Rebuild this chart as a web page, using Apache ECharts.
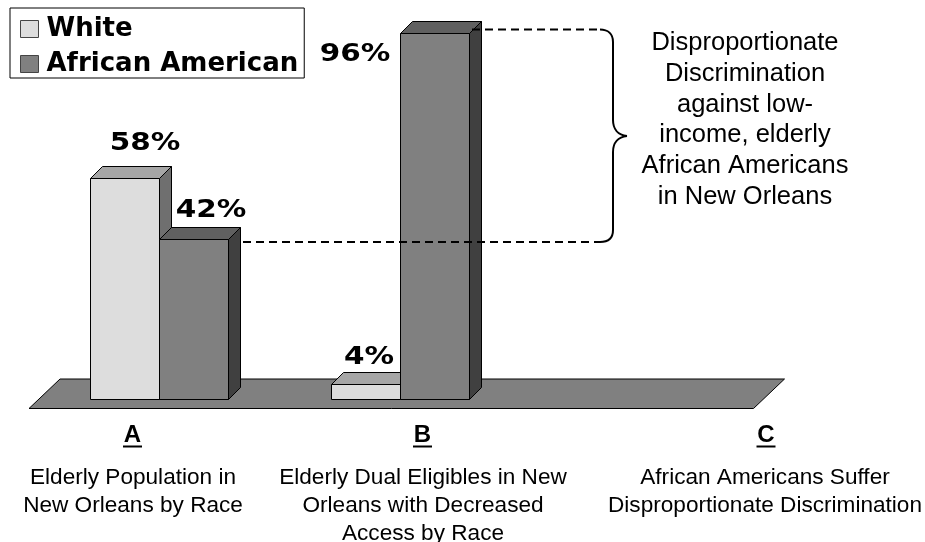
<!DOCTYPE html>
<html><head><meta charset="utf-8">
<script src="https://cdn.jsdelivr.net/npm/echarts@6/dist/echarts.min.js"></script>
<style>html,body{margin:0;padding:0;background:#fff}#c{width:925px;height:542px}</style>
</head><body><div id="c"></div>
<script>
const categories = ['A', 'B', 'C'];
const whiteValues = [58, 4, null];
const africanAmericanValues = [42, 96, null];
const seriesNames = ['White', 'African American'];
const captions = [
  'Elderly Population in\nNew Orleans by Race',
  'Elderly Dual Eligibles in New\nOrleans with Decreased\nAccess by Race',
  'African Americans Suffer\nDisproportionate Discrimination'
];
const annotation = 'Disproportionate\nDiscrimination\nagainst low-\nincome, elderly\nAfrican Americans\nin New Orleans';

// label offsets from the bar's top-front-centre, in pixels
const labelOffsets = [
  [[20, -35], [3, -27], null],
  [[17, -29], [-80, 21], null]
];
const faces = [
  {front: '#dddddd', top: '#a6a6a6', side: '#6f6f6f'},
  {front: '#808080', top: '#606060', side: '#404040'}
];
const DEPTH = 12;
const BAR_RATIO = 0.285;
const EDGE = {stroke: '#000', lineWidth: 1};

function barRenderer(seriesIdx) {
  return function (params, api) {
    const v = api.value(1);
    if (v == null || isNaN(v)) return null;
    const idx = api.value(0);
    const base = api.coord([idx, 0]);
    const top = api.coord([idx, v]);
    const w = api.size([1, 0])[0] * BAR_RATIO;
    const x0 = Math.round(base[0] + (seriesIdx === 0 ? -w : 0)) + 0.5;
    const x1 = Math.round(base[0] + (seriesIdx === 0 ? 0 : w)) + 0.5;
    const y0 = Math.round(base[1]) + 0.5;
    const y1 = Math.round(top[1]) + 0.5;
    const f = faces[seriesIdx];
    const off = labelOffsets[seriesIdx][params.dataIndex];
    return {type: 'group', children: [
      {type: 'polygon', shape: {points: [[x1, y0], [x1 + DEPTH, y0 - DEPTH], [x1 + DEPTH, y1 - DEPTH], [x1, y1]]}, style: {fill: f.side, ...EDGE}},
      {type: 'polygon', shape: {points: [[x0, y1], [x0 + DEPTH, y1 - DEPTH], [x1 + DEPTH, y1 - DEPTH], [x1, y1]]}, style: {fill: f.top, ...EDGE}},
      {type: 'rect', shape: {x: x0, y: y1, width: x1 - x0, height: y0 - y1}, style: {fill: f.front, ...EDGE}},
      {type: 'text', x: (x0 + x1) / 2 + off[0], y: y1 + off[1], scaleX: 1.18, z2: 50,
       style: {text: v + '%', fill: '#000', font: 'bold 25px "DejaVu Sans"', align: 'center', verticalAlign: 'middle'}}
    ]};
  };
}

function floorRenderer(params, api) {
  const band = api.size([1, 0])[0];
  const l = api.coord([0, 0]);
  const r = api.coord([categories.length - 1, 0]);
  const xa = l[0] - band / 2, xb = r[0] + band / 2, y = l[1];
  return {type: 'polygon', shape: {points: [
    [xa - 9, y + 9.5], [xb - 9, y + 9.5], [xb + 22, y - 20], [xa + 22, y - 20]
  ]}, style: {fill: '#808080', ...EDGE}};
}

const captionStyle = {fill: '#000', align: 'center', verticalAlign: 'top', lineHeight: 28, font: '22.6px "Liberation Sans"'};
const letterX = [132.5, 422.5, 766];
const captionX = [133, 423, 765];

const graphic = [];
categories.forEach(function (c, i) {
  graphic.push({type: 'text', x: letterX[i], y: 435, style: {text: c, fill: '#000', font: 'bold 24px "Liberation Sans"', align: 'center', verticalAlign: 'middle'}});
  graphic.push({type: 'line', shape: {x1: letterX[i] - 9.5, y1: 446.5, x2: letterX[i] + 9.5, y2: 446.5}, style: {stroke: '#000', lineWidth: 2}});
  graphic.push({type: 'text', x: captionX[i], y: 464, style: {text: captions[i], ...captionStyle}});
});
graphic.push({type: 'text', x: 745, y: 27.6, style: {text: annotation, fill: '#000', font: '25.5px "Liberation Sans"', align: 'center', verticalAlign: 'top', lineHeight: 30.8}});
const dash = {stroke: '#000', lineWidth: 2, lineDash: [8, 5]};
const ink = {stroke: '#000', lineWidth: 2, fill: null};
graphic.push({type: 'line', z: 10, shape: {x1: 472, y1: 29.5, x2: 600, y2: 29.5}, style: dash});
graphic.push({type: 'line', z: 10, shape: {x1: 243, y1: 242, x2: 600, y2: 242}, style: dash});
graphic.push({type: 'bezierCurve', z: 10, shape: {x1: 600, y1: 29.5, cpx1: 608, cpy1: 29.5, cpx2: 613, cpy2: 34, x2: 613, y2: 42}, style: ink});
graphic.push({type: 'line', z: 10, shape: {x1: 613, y1: 42, x2: 613, y2: 120}, style: ink});
graphic.push({type: 'bezierCurve', z: 10, shape: {x1: 613, y1: 120, cpx1: 613, cpy1: 129, cpx2: 618, cpy2: 135, x2: 627, y2: 136}, style: ink});
graphic.push({type: 'bezierCurve', z: 10, shape: {x1: 627, y1: 136, cpx1: 618, cpy1: 137, cpx2: 613, cpy2: 143, x2: 613, y2: 152}, style: ink});
graphic.push({type: 'line', z: 10, shape: {x1: 613, y1: 152, x2: 613, y2: 230}, style: ink});
graphic.push({type: 'bezierCurve', z: 10, shape: {x1: 613, y1: 230, cpx1: 613, cpy1: 238, cpx2: 608, cpy2: 242, x2: 600, y2: 242}, style: ink});

const chart = echarts.init(document.getElementById('c'), null, {renderer: 'canvas'});
chart.setOption({
  animation: false,
  backgroundColor: '#fff',
  grid: {left: 38, top: 18, width: 724.5, height: 381},
  xAxis: {type: 'category', data: categories, show: false},
  yAxis: {type: 'value', min: 0, max: 100, show: false},
  legend: {
    left: 10, top: 8, orient: 'vertical', data: seriesNames, padding: [8, 6, 1, 10],
    backgroundColor: '#fff', borderColor: '#000', borderWidth: 1, borderRadius: 0,
    itemWidth: 18, itemHeight: 17, itemGap: 9, selectedMode: false, icon: 'rect',
    itemStyle: {borderWidth: 1, borderColor: '#444'},
    textStyle: {color: '#000', fontFamily: 'DejaVu Sans', fontWeight: 'bold', fontSize: 26, padding: [0, 0, 0, 3]}
  },
  graphic: graphic,
  series: [
    {type: 'custom', name: '__floor', renderItem: floorRenderer, data: [[0, 0]], encode: {x: 0, y: 1}, clip: false, z: 1, silent: true},
    {type: 'custom', name: seriesNames[0], renderItem: barRenderer(0), data: whiteValues.map((v, i) => [i, v]), encode: {x: 0, y: 1}, clip: false, z: 2,
     itemStyle: {color: faces[0].front}},
    {type: 'custom', name: seriesNames[1], renderItem: barRenderer(1), data: africanAmericanValues.map((v, i) => [i, v]), encode: {x: 0, y: 1}, clip: false, z: 3,
     itemStyle: {color: faces[1].front}}
  ]
});
</script></body></html>
